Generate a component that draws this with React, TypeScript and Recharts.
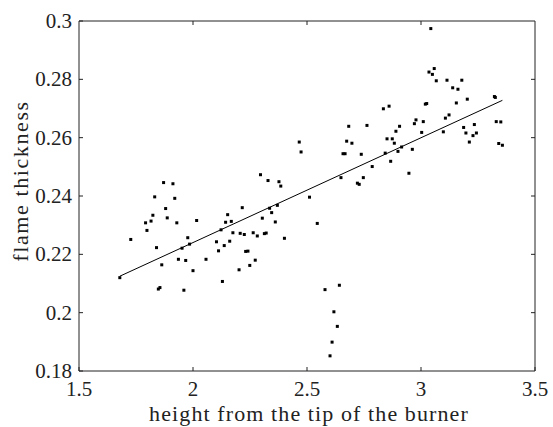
import React from 'react';
import {
  ComposedChart,
  Scatter,
  Line,
  XAxis,
  YAxis,
} from 'recharts';

// measured points: height from the tip of the burner (x) vs flame thickness (y)
const heights = [
  1.679, 1.727, 1.792, 1.798, 1.816, 1.824, 1.832, 1.840, 1.848, 1.855,
  1.863, 1.871, 1.880, 1.887, 1.912, 1.920, 1.929, 1.936, 1.952, 1.960,
  1.968, 1.977, 1.985, 2.000, 2.016, 2.057, 2.103, 2.112, 2.123, 2.129,
  2.137, 2.143, 2.152, 2.161, 2.168, 2.175, 2.202, 2.207, 2.216, 2.225,
  2.231, 2.241, 2.249, 2.264, 2.273, 2.282, 2.296, 2.304, 2.313, 2.321,
  2.329, 2.336, 2.345, 2.361, 2.370, 2.377, 2.385, 2.401, 2.466, 2.474,
  2.511, 2.545, 2.579, 2.601, 2.610, 2.618, 2.633, 2.642, 2.649, 2.658,
  2.667, 2.674, 2.683, 2.697, 2.721, 2.729, 2.738, 2.747, 2.763, 2.786,
  2.843, 2.851, 2.874, 2.835, 2.860, 2.867, 2.883, 2.890, 2.899, 2.906,
  2.915, 2.947, 2.962, 2.971, 2.978, 3.003, 3.010, 3.019, 3.025, 3.035,
  3.043, 3.050, 3.058, 3.067, 3.098, 3.107, 3.114, 3.123, 3.139, 3.155,
  3.162, 3.179, 3.187, 3.197, 3.203, 3.212, 3.228, 3.234, 3.243, 3.322,
  3.326, 3.330, 3.350, 3.341, 3.357,
];

const thickness = [
  0.2120, 0.2251, 0.2308, 0.2282, 0.2314, 0.2334, 0.2397, 0.2223, 0.2081, 0.2086,
  0.2164, 0.2446, 0.2357, 0.2325, 0.2442, 0.2392, 0.2308, 0.2183, 0.2221, 0.2077,
  0.2179, 0.2257, 0.2235, 0.2144, 0.2316, 0.2183, 0.2243, 0.2212, 0.2284, 0.2107,
  0.2230, 0.2310, 0.2336, 0.2245, 0.2313, 0.2274, 0.2147, 0.2272, 0.2360, 0.2268,
  0.2210, 0.2211, 0.2162, 0.2274, 0.2180, 0.2263, 0.2473, 0.2324, 0.2271, 0.2273,
  0.2453, 0.2358, 0.2343, 0.2311, 0.2368, 0.2449, 0.2434, 0.2255, 0.2585, 0.2551,
  0.2396, 0.2306, 0.2079, 0.1852, 0.1899, 0.2003, 0.1953, 0.2094, 0.2463, 0.2545,
  0.2545, 0.2588, 0.2639, 0.2581, 0.2444, 0.2440, 0.2543, 0.2463, 0.2642, 0.2501,
  0.2547, 0.2596, 0.2596, 0.2699, 0.2708, 0.2519, 0.2581, 0.2622, 0.2553, 0.2639,
  0.2568, 0.2478, 0.2560, 0.2648, 0.2661, 0.2618, 0.2655, 0.2715, 0.2717, 0.2825,
  0.2974, 0.2817, 0.2837, 0.2795, 0.2620, 0.2667, 0.2797, 0.2678, 0.2771, 0.2719,
  0.2766, 0.2797, 0.2635, 0.2616, 0.2732, 0.2585, 0.2607, 0.2645, 0.2616, 0.2741,
  0.2738, 0.2655, 0.2654, 0.2580, 0.2574,
];

// least squares fit line end points
const fitHeights = [1.679, 3.357];
const fitThickness = [0.2125, 0.2728];

const xTicks = [1.5, 2, 2.5, 3, 3.5];
const yTicks = [0.18, 0.2, 0.22, 0.24, 0.26, 0.28, 0.3];

const xMin = xTicks[0];
const xMax = xTicks[xTicks.length - 1];
const yMin = yTicks[0];
const yMax = yTicks[yTicks.length - 1];

const points = heights.map((x, i) => ({ x, y: thickness[i] }));
const fit = fitHeights.map((x, i) => ({ x, y: fitThickness[i] }));

const FONT = 'Liberation Serif';
const INK = '#222';

// chart layout
const W = 553;
const H = 427;
const MARGIN = { top: 21, right: 18, bottom: 16, left: 19 };
const X_AXIS_H = 40;
const Y_AXIS_W = 60;
const PLOT_LEFT = MARGIN.left + Y_AXIS_W;
const PLOT_TOP = MARGIN.top;
const PLOT_RIGHT = W - MARGIN.right;
const PLOT_BOTTOM = H - MARGIN.bottom - X_AXIS_H;
const TICK = 4;

const Dot = (props: any) => (
  <rect x={props.cx - 1.5} y={props.cy - 1.5} width={3} height={3} fill="#000" />
);

// x tick label, plus the mirrored tick on the top edge (and the right edge at the last tick)
const XTick = (props: any) => {
  const v = props.payload.value;
  return (
    <g>
      {v !== xMin && v !== xMax && (
        <line x1={props.x} x2={props.x} y1={PLOT_TOP} y2={PLOT_TOP + TICK} stroke={INK} />
      )}
      {v === xMax && (
        <line x1={props.x} x2={props.x} y1={PLOT_TOP} y2={PLOT_BOTTOM} stroke={INK} />
      )}
      <text x={props.x} y={props.y + 19} textAnchor="middle" fontFamily={FONT} fontSize={21} fill={INK}>
        {String(v)}
      </text>
    </g>
  );
};

// y tick label, plus the mirrored tick on the right edge (and the top edge at the last tick)
const YTick = (props: any) => {
  const v = props.payload.value;
  return (
    <g>
      {v !== yMin && v !== yMax && (
        <line x1={PLOT_RIGHT - TICK} x2={PLOT_RIGHT} y1={props.y} y2={props.y} stroke={INK} />
      )}
      {v === yMax && (
        <line x1={PLOT_LEFT} x2={PLOT_RIGHT} y1={props.y} y2={props.y} stroke={INK} />
      )}
      <text x={props.x} y={props.y} textAnchor="end" dominantBaseline="central" fontFamily={FONT} fontSize={21} fill={INK}>
        {String(v)}
      </text>
    </g>
  );
};

export default function App() {
  return (
    <div style={{ position: 'absolute', left: 0, top: 0, background: '#fff' }}>
      <ComposedChart width={W} height={H} margin={MARGIN}>
        <XAxis
          type="number"
          dataKey="x"
          domain={[xMin, xMax]}
          ticks={xTicks}
          tickSize={-TICK}
          tickMargin={10}
          height={X_AXIS_H}
          stroke={INK}
          tick={XTick}
          label={{
            content: (p: any) => (
              <text
                x={p.viewBox.x + p.viewBox.width / 2 + 2}
                y={421}
                textAnchor="middle"
                fontFamily={FONT}
                fontSize={22}
                letterSpacing={1.1}
                fill={INK}
              >
                height from the tip of the burner
              </text>
            ),
          }}
        />
        <YAxis
          type="number"
          dataKey="y"
          domain={[yMin, yMax]}
          ticks={yTicks}
          tickSize={-TICK}
          tickMargin={11}
          width={Y_AXIS_W}
          stroke={INK}
          tick={YTick}
          label={{
            content: (p: any) => {
              const cy = p.viewBox.y + p.viewBox.height / 2 - 15;
              return (
                <text
                  x={28}
                  y={cy}
                  transform={`rotate(-90 28 ${cy})`}
                  textAnchor="middle"
                  fontFamily={FONT}
                  fontSize={22}
                  letterSpacing={1.6}
                  fill={INK}
                >
                  flame thickness
                </text>
              );
            },
          }}
        />
        <Line
          data={fit}
          dataKey="y"
          stroke="#000"
          strokeWidth={1}
          dot={false}
          type="linear"
          isAnimationActive={false}
        />
        <Scatter
          data={points}
          dataKey="y"
          shape={Dot}
          isAnimationActive={false}
        />
      </ComposedChart>
    </div>
  );
}
